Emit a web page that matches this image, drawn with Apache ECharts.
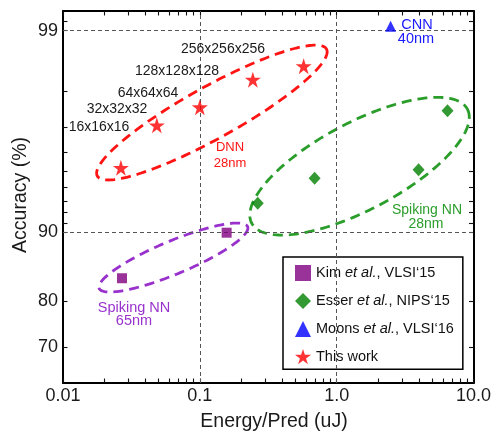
<!DOCTYPE html>
<html><head><meta charset="utf-8">
<script src="https://cdn.jsdelivr.net/npm/echarts@6/dist/echarts.min.js"></script>
<style>html,body{margin:0;padding:0;background:#fff}#c{width:494px;height:431px}</style>
</head><body><div id="c"></div>
<script>
const FONT = '"Liberation Sans", Arial, Helvetica, sans-serif';

// ---- tick labels / gridlines ----
const xTickLabels = ['0.01', '0.1', '1.0', '10.0'];
const xTickValues = [0.01, 0.1, 1, 10];
const yTickLabels = ['99', '90', '80', '70'];
const yTickValues = [99, 90, 80, 70];
const yMinorTickValues = [99.1, 98, 97, 96, 95, 94, 93, 92, 91];
const xGridValues = [0.1, 1.0];
const yGridValues = [99, 90];

// ---- data ----
const kimEnergy = [0.027, 0.157];
const kimAcc = [83.3, 89.9];
const esserEnergy = [0.265, 0.69, 3.97, 6.46];
const esserAcc = [92.8, 94.6, 95.1, 97.5];
const moonsEnergy = [2.48];
const moonsAcc = [99.05];
const oursEnergy = [0.0265, 0.0485, 0.1, 0.244, 0.574];
const oursAcc = [95.2, 97.05, 97.6, 98.25, 98.5];
const oursLabels = ['16x16x16', '32x32x32', '64x64x64', '128x128x128', '256x256x256'];
const seriesNames = ['Kim et al., VLSI\u201815', 'Esser et al., NIPS\u201815', 'Moons et al., VLSI\u201816', 'This work'];

// ---- axis transforms (log energy, error-log accuracy) ----
const X = v => Math.log10(v);
function Y(acc) {
  if (acc >= 90) return -Math.log10(100 - acc);
  if (acc >= 80) return -1 + (acc - 90) / 10 * 0.3428;
  return -1.3428 + (acc - 80) / 10 * 0.2285;
}
const key = v => v.toFixed(4);
const xLabelMap = {}; xTickValues.forEach((v, i) => xLabelMap[key(X(v))] = xTickLabels[i]);
const yLabelMap = {}; yTickValues.forEach((v, i) => yLabelMap[key(Y(v))] = yTickLabels[i]);
const xMinorTicks = [];
[0.01, 0.1, 1].forEach(d => { for (let k = 1; k <= 9; k++) xMinorTicks.push(X(k * d)); });
xMinorTicks.push(X(10));
const yTicks = yTickValues.concat(yMinorTickValues).map(Y);

const pts = (es, as) => es.map((e, i) => [X(e), Y(as[i])]);

const starPath = 'path://M50,0 L61.2,34.5 L97.6,34.5 L68.2,55.9 L79.4,90.5 L50,69.1 L20.6,90.5 L31.8,55.9 L2.4,34.5 L38.8,34.5 Z';

// ---- annotation ellipses (centre in data units, radii in px) ----
const ellipses = [
  { cx: 0.1225, cy: 97.45, rx: 131, ry: 26, angle: 29, color: '#ff1414' },
  { cx: 1.47, cy: 95.29, rx: 122, ry: 43.6, angle: 27.9, color: '#2a9d2a' },
  { cx: 0.0641, cy: 86.3, rx: 80.4, ry: 16.6, angle: 22.6, color: '#9932cc' }
];

const chart = echarts.init(document.getElementById('c'), null, { renderer: 'canvas' });

const baseX = {
  type: 'value', min: X(0.01), max: X(10),
  axisLine: { show: true, onZero: false, lineStyle: { color: '#000', width: 2 } },
  axisTick: { show: true, inside: true, length: 4.5, lineStyle: { color: '#111', width: 1.1 }, customValues: xMinorTicks },
  splitLine: { show: false }
};
const baseY = {
  type: 'value', min: -1.7501, max: 0.0979,
  axisLine: { show: true, onZero: false, lineStyle: { color: '#000', width: 2 } },
  axisTick: { show: true, inside: true, length: 4.5, lineStyle: { color: '#111', width: 1.1 }, customValues: yTicks },
  splitLine: { show: false }
};

const textStyle = (size, color) => ({ fontSize: size, fontFamily: FONT, fill: color });
function txt(text, x, y, size, color, extra) {
  return Object.assign({ type: 'text', x: x, y: y, z: 50,
    style: Object.assign({ text: text, align: 'center', verticalAlign: 'middle' }, textStyle(size, color)) }, extra || {});
}

const option = {
  backgroundColor: '#fff',
  animation: false,
  grid: { left: 63, top: 11, right: 20, bottom: 48, containLabel: false },
  xAxis: [
    Object.assign({}, baseX, { position: 'bottom',
      axisLabel: { show: true, customValues: xTickValues.map(X), margin: 4, fontSize: 18, color: '#1a1a1a', fontFamily: FONT,
        showMinLabel: true, showMaxLabel: true, formatter: v => xLabelMap[key(v)] || '' } }),
    Object.assign({}, baseX, { position: 'top', axisLabel: { show: false } })
  ],
  yAxis: [
    Object.assign({}, baseY, { position: 'left',
      axisLabel: { show: true, customValues: yTickValues.map(Y), margin: 5, fontSize: 18, color: '#1a1a1a', fontFamily: FONT,
        showMinLabel: true, showMaxLabel: true, formatter: v => yLabelMap[key(v)] || '' } }),
    Object.assign({}, baseY, { position: 'right', axisLabel: { show: false } })
  ],
  legend: {
    orient: 'vertical', left: 283, top: 257,
    data: seriesNames,
    selectedMode: false,
    backgroundColor: '#fff', borderColor: '#000', borderWidth: 1.5, borderRadius: 0,
    padding: [8, 9, 5, 12],
    itemWidth: 16, itemHeight: 16, itemGap: 12,
    formatter: name => name.replace('et al.', '{it|et al.}'),
    textStyle: { fontSize: 14.5, color: '#111', fontFamily: FONT,
      rich: { it: { fontStyle: 'italic', fontSize: 14.5, color: '#111', fontFamily: FONT } } }
  },
  series: [
    {
      type: 'custom', name: 'ellipses', z: 1, silent: true,
      data: ellipses.map(e => [X(e.cx), Y(e.cy)]),
      renderItem: function (params, api) {
        const e = ellipses[params.dataIndex];
        const c = api.coord([api.value(0), api.value(1)]);
        const th = e.angle * Math.PI / 180;
        const points = [];
        for (let i = 0; i < 180; i++) {
          const f = i / 180 * Math.PI * 2;
          points.push([
            c[0] + e.rx * Math.cos(f) * Math.cos(th) + e.ry * Math.sin(f) * Math.sin(th),
            c[1] - e.rx * Math.cos(f) * Math.sin(th) + e.ry * Math.sin(f) * Math.cos(th)
          ]);
        }
        return { type: 'polygon', shape: { points: points },
          style: { fill: 'none', stroke: e.color, lineWidth: 2.8, lineDash: [10, 6] } };
      },
      markLine: {
        silent: true, symbol: 'none', label: { show: false },
        lineStyle: { type: [4, 3], color: '#555', width: 1 },
        data: xGridValues.map(v => ({ xAxis: X(v) })).concat(yGridValues.map(v => ({ yAxis: Y(v) })))
      }
    },
    { type: 'scatter', name: seriesNames[0], z: 5, symbol: 'rect', symbolSize: 10,
      itemStyle: { color: '#800080' }, data: pts(kimEnergy, kimAcc) },
    { type: 'scatter', name: seriesNames[1], z: 5, symbol: 'diamond', symbolSize: [12, 13],
      itemStyle: { color: '#008000' }, data: pts(esserEnergy, esserAcc) },
    { type: 'scatter', name: seriesNames[2], z: 5, symbol: 'triangle', symbolSize: 11,
      itemStyle: { color: '#0000ff' }, data: pts(moonsEnergy, moonsAcc) },
    { type: 'scatter', name: seriesNames[3], z: 5, symbol: starPath, symbolSize: 16,
      itemStyle: { color: '#ff0000' }, data: pts(oursEnergy, oursAcc) }
  ],
  graphic: [
    txt('Accuracy (%)', 21, 195, 19.5, '#1a1a1a', { rotation: Math.PI / 2 }),
    txt('Energy/Pred (uJ)', 274, 422, 19.5, '#1a1a1a'),
    txt(oursLabels[4], 223, 49, 14, '#1a1a1a'),
    txt(oursLabels[3], 177, 71, 14, '#1a1a1a'),
    txt(oursLabels[2], 148, 93, 14, '#1a1a1a'),
    txt(oursLabels[1], 117, 109, 14, '#1a1a1a'),
    txt(oursLabels[0], 99, 127, 14, '#1a1a1a'),
    txt('DNN', 230, 147, 13, '#ff1414'),
    txt('28nm', 230, 163, 13, '#ff1414'),
    txt('CNN', 417, 25, 14.5, '#1a1aff'),
    txt('40nm', 416, 39, 14.5, '#1a1aff'),
    txt('Spiking NN', 427, 210, 14, '#2a9d2a'),
    txt('28nm', 426, 224, 14, '#2a9d2a'),
    txt('Spiking NN', 134, 308, 14.5, '#9932cc'),
    txt('65nm', 134, 321, 14.5, '#9932cc')
  ]
};
chart.setOption(option);
</script>
</body></html>
